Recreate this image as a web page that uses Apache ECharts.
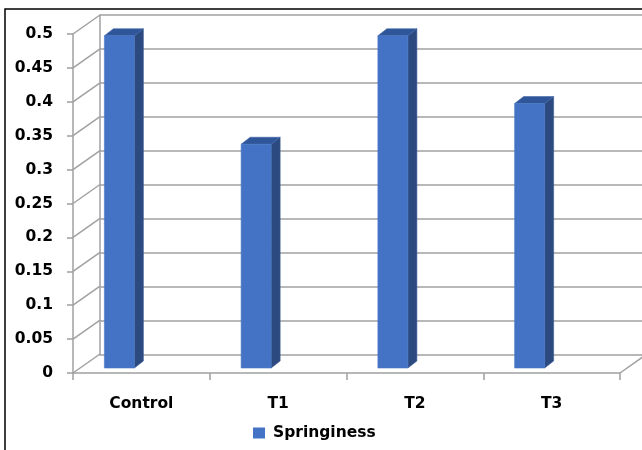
<!DOCTYPE html>
<html>
<head>
<meta charset="utf-8">
<script src="https://cdn.jsdelivr.net/npm/echarts@6/dist/echarts.min.js"></script>
<style>
  html, body { margin: 0; padding: 0; background: #fff; }
  #chart { width: 642px; height: 450px; }
</style>
</head>
<body>
<div id="chart"></div>
<script>
// Springiness by treatment
const categories = ['Control', 'T1', 'T2', 'T3'];
const springiness = [0.49, 0.33, 0.49, 0.39];
const yTicks = [0, 0.05, 0.1, 0.15, 0.2, 0.25, 0.3, 0.35, 0.4, 0.45, 0.5];

// pseudo-3D geometry (pixels)
const WALL_DX = 27, WALL_DY = -19;     // front plane -> back wall
const BAR_DY = -5;                     // bars stand slightly behind the front plane
const BAR_LEFT = -37, BAR_W = 30;      // front face relative to category centre
const BAR_DEPTH_X = 9, BAR_DEPTH_Y = -7;

const FONT = 'DejaVu Sans';
const GRID_COLOR = '#a0a0a0';
const GRID_WIDTH = 1.5;

const chart = echarts.init(document.getElementById('chart'));

function renderBar(params, api) {
  const i = api.value(0);
  const top = api.coord([i, api.value(1)]);
  const base = api.coord([i, 0]);
  const x0 = top[0] + BAR_LEFT;
  const x1 = x0 + BAR_W;
  const yt = top[1] + BAR_DY;
  const yb = base[1] + BAR_DY;
  const dx = BAR_DEPTH_X, dy = BAR_DEPTH_Y;
  return {
    type: 'group',
    children: [
      { type: 'polygon', shape: { points: [[x1, yt], [x1 + dx, yt + dy], [x1 + dx, yb + dy], [x1, yb]] },
        style: { fill: '#2c4a80', stroke: '#3a5a96', lineWidth: 0.6 } },
      { type: 'polygon', shape: { points: [[x0, yt], [x0 + dx, yt + dy], [x1 + dx, yt + dy], [x1, yt]] },
        style: { fill: '#30569a', stroke: '#3d63a8', lineWidth: 0.6 } },
      { type: 'rect', shape: { x: x0, y: yt, width: BAR_W, height: yb - yt },
        style: { fill: '#4472c4', stroke: '#4a78c8', lineWidth: 0.6 } }
    ]
  };
}

// diagonal connectors from front axis ticks to the back wall
function renderConnector(params, api) {
  const v = api.value(0);
  const p = api.coord([0, v]);
  const half = api.size([1, 0])[0] / 2;
  const x = p[0] - half;
  return {
    type: 'line',
    shape: { x1: x, y1: p[1], x2: x + WALL_DX, y2: p[1] + WALL_DY },
    style: { stroke: GRID_COLOR, lineWidth: GRID_WIDTH }
  };
}

// right end of the floor
function renderFloorEdge(params, api) {
  const p = api.coord([categories.length - 1, 0]);
  const half = api.size([1, 0])[0] / 2;
  const x = p[0] + half;
  return {
    type: 'line',
    shape: { x1: x, y1: p[1], x2: x + WALL_DX, y2: p[1] + WALL_DY },
    style: { stroke: GRID_COLOR, lineWidth: GRID_WIDTH }
  };
}

chart.setOption({
  animation: false,
  backgroundColor: '#fff',
  textStyle: { fontFamily: FONT },
  graphic: [{
    type: 'rect', z: 100, silent: true,
    shape: { x: 5, y: 9, width: 700, height: 500 },
    style: { fill: 'none', stroke: '#000', lineWidth: 1.5 }
  }],
  grid: [
    { left: 73, right: 22, top: 34, bottom: 77 },        // front plane
    { left: 100, right: -5, top: 15, bottom: 95 }        // back wall
  ],
  xAxis: [
    {
      gridIndex: 0, type: 'category', data: categories, boundaryGap: true,
      axisLine: { show: true, lineStyle: { color: GRID_COLOR, width: GRID_WIDTH } },
      axisTick: { show: true, length: 7, lineStyle: { color: GRID_COLOR, width: GRID_WIDTH } },
      axisLabel: { margin: 23, color: '#000', fontWeight: 'bold', fontSize: 15.5, fontFamily: FONT },
      splitLine: { show: false }
    },
    {
      gridIndex: 1, type: 'category', data: categories, show: false
    }
  ],
  yAxis: [
    {
      gridIndex: 0, type: 'value', min: 0, max: 0.5, interval: 0.05,
      axisLine: { show: true, lineStyle: { color: GRID_COLOR, width: GRID_WIDTH } },
      axisTick: { show: true, length: 6, lineStyle: { color: GRID_COLOR, width: GRID_WIDTH } },
      axisLabel: { margin: 20, color: '#000', fontWeight: 'bold', fontSize: 15.5, fontFamily: FONT,
                   formatter: v => String(+v.toFixed(2)) },
      splitLine: { show: false }
    },
    {
      gridIndex: 1, type: 'value', min: 0, max: 0.5, interval: 0.05,
      axisLine: { show: true, lineStyle: { color: GRID_COLOR, width: GRID_WIDTH } },
      axisTick: { show: false },
      axisLabel: { show: false },
      splitLine: { show: true, lineStyle: { color: GRID_COLOR, width: GRID_WIDTH } }
    }
  ],
  legend: {
    data: [{ name: 'Springiness', icon: 'rect' }],
    left: 248, top: 420,
    itemWidth: 12, itemHeight: 11, itemGap: 10,
    textStyle: { color: '#000', fontWeight: 'bold', fontSize: 15.5, fontFamily: FONT, padding: [0, 0, 0, 3] }
  },
  series: [
    {
      type: 'custom', name: 'connectors', xAxisIndex: 0, yAxisIndex: 0,
      renderItem: renderConnector, data: yTicks.map(v => [v]),
      encode: { y: 0 }, silent: true, z: 1
    },
    {
      type: 'custom', name: 'floor', xAxisIndex: 0, yAxisIndex: 0,
      renderItem: renderFloorEdge, data: [[0]], silent: true, z: 1
    },
    {
      type: 'custom', name: 'Springiness', xAxisIndex: 0, yAxisIndex: 0,
      itemStyle: { color: '#4472c4' },
      renderItem: renderBar,
      data: springiness.map((v, i) => [i, v]),
      encode: { x: 0, y: 1 }, z: 5
    }
  ]
});
</script>
</body>
</html>
